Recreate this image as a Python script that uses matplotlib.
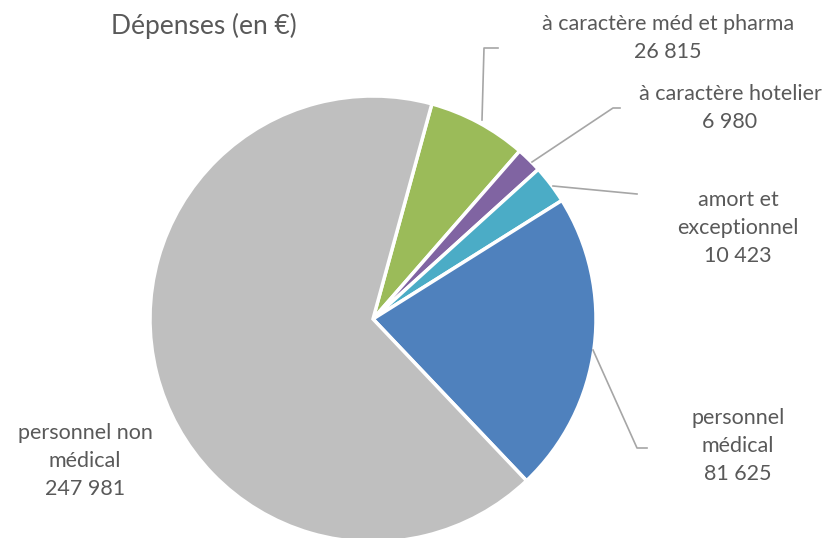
import matplotlib
matplotlib.use("Agg")
import matplotlib.pyplot as plt

categories = ["à caractère méd et pharma", "à caractère hotelier", "amort et\nexceptionnel",
              "personnel\nmédical", "personnel non\nmédical"]
values = [26815, 6980, 10423, 81625, 247981]
value_labels = ["26 815", "6 980", "10 423", "81 625", "247 981"]
colors = ["#9BBB59", "#8064A2", "#4BACC6", "#4F81BD", "#BFBFBF"]

W, H = 833, 538
fig = plt.figure(figsize=(W / 100, H / 100), dpi=100)
ax = fig.add_axes([0, 0, 1, 1])

def py(y):
    return H - y

ax.pie(values, colors=colors, startangle=74.7, counterclock=False,
       center=(373, py(319)), radius=223,
       wedgeprops=dict(edgecolor="white", linewidth=2.5), frame=True)
ax.set_xlim(0, W)
ax.set_ylim(0, H)
ax.set_aspect("equal")
ax.axis("off")

font = "Lato"
tc = "#595959"
lc = "#A6A6A6"

ax.text(204, py(26), "Dépenses (en €)", ha="center", va="center",
        fontsize=19, color=tc, family=font)

# label positions (pixel coords), leader lines
labels_pos = [(668, 38), (730, 108), (738, 228), (738, 446), (85, 461)]
leaders = [
    [(482, 120), (484, 48), (498, 48)],
    [(532, 162), (613, 108), (620, 108)],
    [(553, 186), (637, 194)],
    [(593, 350), (637, 448), (647, 448)],
    None,
]
for cat, vl, (x, y), ld in zip(categories, value_labels, labels_pos, leaders):
    ax.text(x, py(y), cat + "\n" + vl, ha="center", va="center", fontsize=15.5,
            color=tc, family=font, linespacing=1.5)
    if ld:
        ax.plot([p[0] for p in ld], [py(p[1]) for p in ld], color=lc, lw=1.2)

fig.savefig("out.png", dpi=100)
